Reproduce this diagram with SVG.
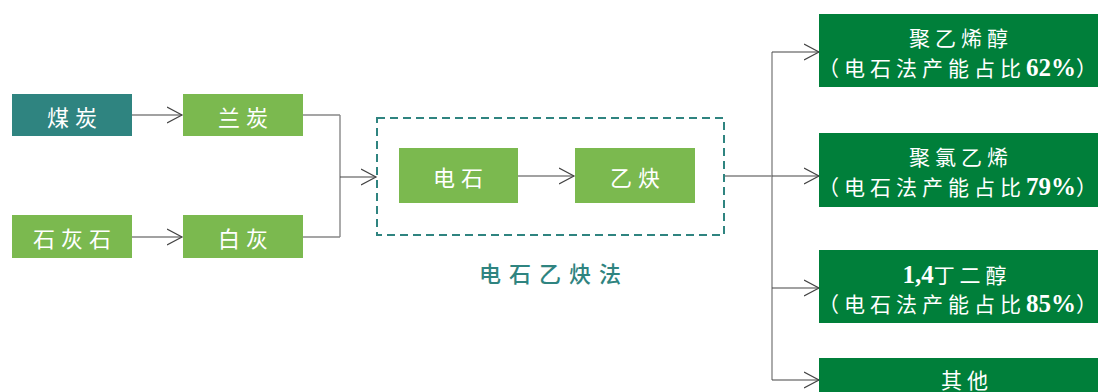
<svg xmlns="http://www.w3.org/2000/svg" width="1098" height="392" viewBox="0 0 1098 392">
<defs>
<marker id="arr" markerUnits="userSpaceOnUse" markerWidth="18" markerHeight="20" refX="15" refY="9" orient="auto">
<path d="M0,1 L15,9 L0,17" fill="none" stroke="#444" stroke-width="1.2"/>
</marker>
<style>
.teal{fill:#2f8480}
.lg{fill:#7bb94f}
.dg{fill:#007f3a}
.t{font-family:"Noto Sans CJK SC","Liberation Serif",sans-serif;fill:#fff;text-anchor:middle;dominant-baseline:central}
.s{font-size:22px;letter-spacing:6px}
.r{font-size:21px;letter-spacing:5px}
.e{text-anchor:end}
.z{letter-spacing:0}
.num{font-family:"Liberation Serif","Noto Sans CJK SC",serif;font-weight:bold;font-size:25px;letter-spacing:0}
.ln{fill:none;stroke:#444;stroke-width:1.2}
.lv{fill:none;stroke:#888;stroke-width:1.4}
</style>
</defs>
<rect width="1098" height="392" fill="#fff"/>
<g id="connectors">
<path class="ln" d="M132,115 H182" marker-end="url(#arr)"/>
<path class="ln" d="M132,237 H182" marker-end="url(#arr)"/>
<path class="lv" d="M303,115 H340 M303,237 H340 M340,115 V237"/>
<path class="ln" d="M340,177 H376" marker-end="url(#arr)"/>
<path class="ln" d="M518,176 H574" marker-end="url(#arr)"/>
<path class="ln" d="M724,176 H772"/>
<path class="lv" d="M772,52 V380"/>
<path class="ln" d="M772,52 H819" marker-end="url(#arr)"/>
<path class="ln" d="M772,176 H819" marker-end="url(#arr)"/>
<path class="ln" d="M772,288 H819" marker-end="url(#arr)"/>
<path class="ln" d="M772,380 H819" marker-end="url(#arr)"/>
</g>
<g id="group-box">
<rect x="377" y="118" width="347" height="117" fill="none" stroke="#2f8480" stroke-width="2" stroke-dasharray="8,5"/>
<text x="554" y="272" style="font-family:'Noto Sans CJK SC',sans-serif;font-size:22px;font-weight:500;letter-spacing:8px;fill:#2f8480;text-anchor:middle;dominant-baseline:central">电石乙炔法</text>
</g>
<g id="n-meitan"><rect class="teal" x="12" y="94" width="120" height="42"/><text class="t s" x="75" y="116">煤炭</text></g>
<g id="n-lantan"><rect class="lg" x="183" y="94" width="120" height="42"/><text class="t s" x="246" y="116">兰炭</text></g>
<g id="n-shihuishi"><rect class="lg" x="12" y="215" width="120" height="43"/><text class="t s" x="75" y="237">石灰石</text></g>
<g id="n-baihui"><rect class="lg" x="183" y="215" width="120" height="43"/><text class="t s" x="246" y="237">白灰</text></g>
<g id="n-dianshi"><rect class="lg" x="399" y="148" width="119" height="55"/><text class="t s" x="461" y="176">电石</text></g>
<g id="n-yique"><rect class="lg" x="575" y="148" width="120" height="55"/><text class="t s" x="638" y="176">乙炔</text></g>
<g id="n-pva"><rect class="dg" x="819" y="14" width="290" height="73"/>
<text class="t r" x="961" y="37">聚乙烯醇</text>
<text class="t r e" x="1097" y="67">（电石法产能占比<tspan class="num">62%</tspan><tspan class="z">）</tspan></text></g>
<g id="n-pvc"><rect class="dg" x="819" y="133" width="290" height="74"/>
<text class="t r" x="961" y="156">聚氯乙烯</text>
<text class="t r e" x="1097" y="186">（电石法产能占比<tspan class="num">79%</tspan><tspan class="z">）</tspan></text></g>
<g id="n-bdo"><rect class="dg" x="819" y="250" width="290" height="73"/>
<text class="t r" x="957" y="274"><tspan class="num">1,4</tspan>丁二醇</text>
<text class="t r e" x="1097" y="303">（电石法产能占比<tspan class="num">85%</tspan><tspan class="z">）</tspan></text></g>
<g id="n-other"><rect class="dg" x="819" y="358" width="290" height="40"/><text class="t r" x="967" y="379">其他</text></g>
</svg>
